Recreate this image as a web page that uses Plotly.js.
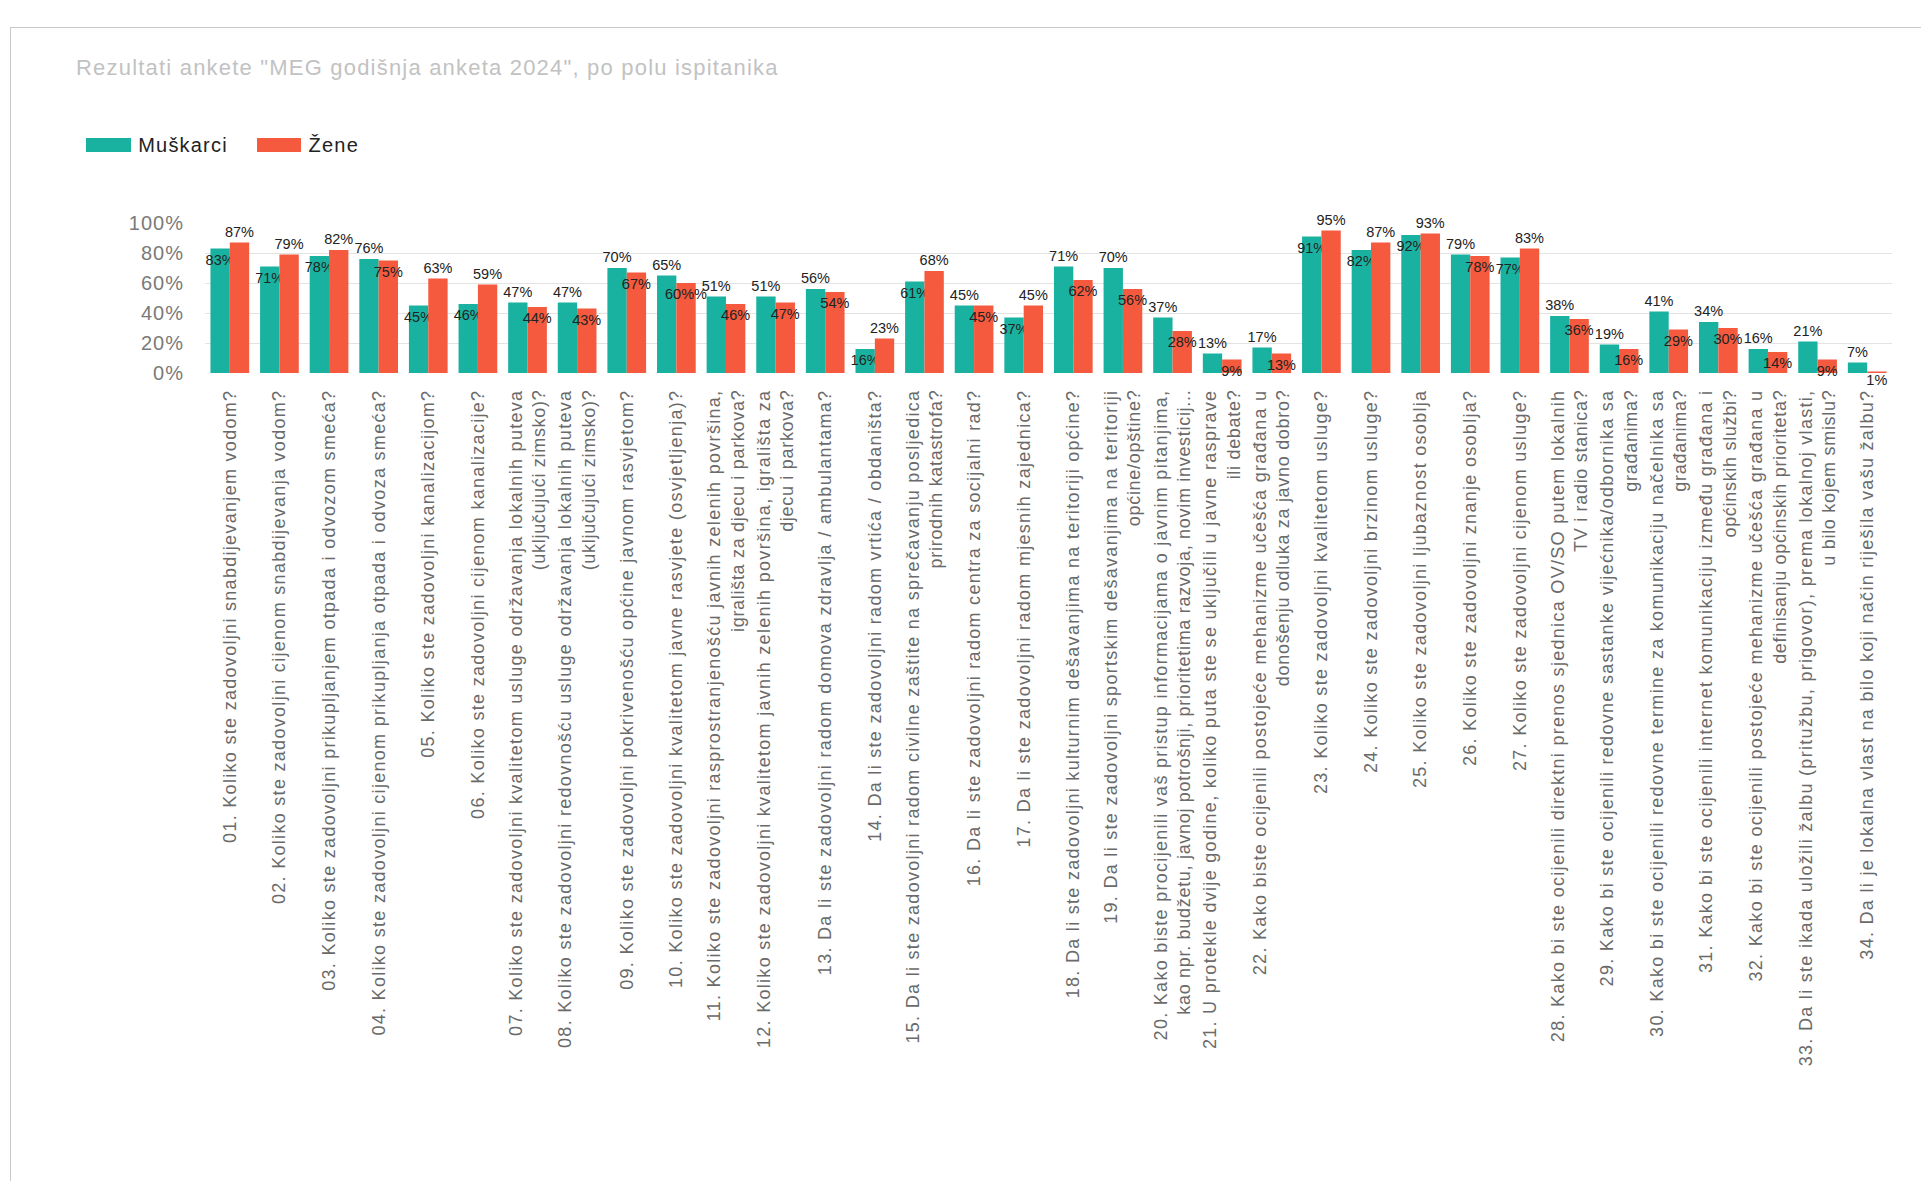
<!DOCTYPE html>
<html>
<head>
<meta charset="utf-8">
<script src="https://cdn.plot.ly/plotly-3.0.1.min.js"></script>
<style>
html,body{margin:0;padding:0;background:#fff;}
#chart{position:absolute;left:0;top:0;width:1921px;height:1181px;}
#frame{position:absolute;left:10px;top:27px;width:1911px;height:1154px;border-left:1px solid #c9c9c9;border-top:1px solid #c9c9c9;pointer-events:none;}
#chart .xtick text{letter-spacing:1.3px;}
#chart .xtick text tspan.line:not(:first-child){letter-spacing:0.7px;}
#chart .ytick text{letter-spacing:1px;}
#chart .gtitle{letter-spacing:1.2px;}
#chart .annotation-text{letter-spacing:1.2px;}
</style>
</head>
<body>
<div id="chart"></div>
<div id="frame"></div>
<script>
const categories = [
  "01. Koliko ste zadovoljni snabdijevanjem vodom?",
  "02. Koliko ste zadovoljni cijenom snabdijevanja vodom?",
  "03. Koliko ste zadovoljni prikupljanjem otpada i odvozom smeća?",
  "04. Koliko ste zadovoljni cijenom prikupljanja otpada i odvoza smeća?",
  "05. Koliko ste zadovoljni kanalizacijom?",
  "06. Koliko ste zadovoljni cijenom kanalizacije?",
  "07. Koliko ste zadovoljni kvalitetom usluge održavanja lokalnih puteva<br>(uključujući zimsko)?",
  "08. Koliko ste zadovoljni redovnošću usluge održavanja lokalnih puteva<br>(uključujući zimsko)?",
  "09. Koliko ste zadovoljni pokrivenošću općine javnom rasvjetom?",
  "10. Koliko ste zadovoljni kvalitetom javne rasvjete (osvjetljenja)?",
  "11. Koliko ste zadovoljni rasprostranjenošću javnih zelenih površina,<br>igrališta za djecu i parkova?",
  "12. Koliko ste zadovoljni kvalitetom javnih zelenih površina, igrališta za<br>djecu i parkova?",
  "13. Da li ste zadovoljni radom domova zdravlja / ambulantama?",
  "14. Da li ste zadovoljni radom vrtića / obdaništa?",
  "15. Da li ste zadovoljni radom civilne zaštite na sprečavanju posljedica<br>prirodnih katastrofa?",
  "16. Da li ste zadovoljni radom centra za socijalni rad?",
  "17. Da li ste zadovoljni radom mjesnih zajednica?",
  "18. Da li ste zadovoljni kulturnim dešavanjima na teritoriji općine?",
  "19. Da li ste zadovoljni sportskim dešavanjima na teritoriji<br>općine/opštine?",
  "20. Kako biste procijenili vaš pristup informacijama o javnim pitanjima,<br>kao npr. budžetu, javnoj potrošnji, prioritetima razvoja, novim investicij...",
  "21. U protekle dvije godine, koliko puta ste se uključili u javne rasprave<br>ili debate?",
  "22. Kako biste ocijenili postojeće mehanizme učešća građana u<br>donošenju odluka za javno dobro?",
  "23. Koliko ste zadovoljni kvalitetom usluge?",
  "24. Koliko ste zadovoljni brzinom usluge?",
  "25. Koliko ste zadovoljni ljubaznost osoblja",
  "26. Koliko ste zadovoljni znanje osoblja?",
  "27. Koliko ste zadovoljni cijenom usluge?",
  "28. Kako bi ste ocijenili direktni prenos sjednica OV/SO putem lokalnih<br>TV i radio stanica?",
  "29. Kako bi ste ocijenili redovne sastanke vijećnika/odbornika sa<br>građanima?",
  "30. Kako bi ste ocijenili redovne termine za komunikaciju načelnika sa<br>građanima?",
  "31. Kako bi ste ocijenili internet komunikaciju između građana i<br>općinskih službi?",
  "32. Kako bi ste ocijenili postojeće mehanizme učešća građana u<br>definisanju općinskih prioriteta?",
  "33. Da li ste ikada uložili žalbu (pritužbu, prigovor), prema lokalnoj vlasti,<br>u bilo kojem smislu?",
  "34. Da li je lokalna vlast na bilo koji način riješila vašu žalbu?"
];

const muskarci = [83, 71, 78, 76, 45, 46, 47, 47, 70, 65, 51, 51, 56, 16, 61, 45, 37, 71, 70, 37, 13, 17, 91, 82, 92, 79, 77, 38, 19, 41, 34, 16, 21, 7];
const zene     = [87, 79, 82, 75, 63, 59, 44, 43, 67, 60, 46, 47, 54, 23, 68, 45, 45, 62, 56, 28, 9, 13, 95, 87, 93, 78, 83, 36, 16, 29, 30, 14, 9, 1];

const seriesNames = ["Muškarci", "Žene"];
const seriesColors = ["#19b2a0", "#f55a3e"];
const yTickVals = [0, 20, 40, 60, 80, 100];
const yTickText = ["0%", "20%", "40%", "60%", "80%", "100%"];
const chartTitle = 'Rezultati ankete "MEG godišnja anketa 2024", po polu ispitanika';

const FONT = "Liberation Sans, Arial, sans-serif";
const W = 1921, H = 1181;
const M = {l: 205, r: 29, t: 223, b: 808};
const plotW = W - M.l - M.r, plotH = H - M.t - M.b;
const px2x = (px) => (px - M.l) / plotW;
const px2y = (py) => (H - M.b - py) / plotH;

// the taller bar of each pair gets its label above, the other one just inside its top
const mPos = muskarci.map((m, i) => (m >= zene[i] ? "outside" : "inside"));
const zPos = zene.map((z, i) => (z > muskarci[i] ? "outside" : "inside"));

const labelFont = {family: FONT, size: 14.5, color: "#222"};

function barTrace(name, values, color, positions) {
  return {
    type: "bar",
    name: name,
    x: categories,
    y: values,
    marker: {color: color},
    texttemplate: "%{y}%",
    textposition: positions,
    insidetextanchor: "end",
    textangle: 0,
    constraintext: "none",
    cliponaxis: false,
    textfont: labelFont,
    insidetextfont: labelFont,
    outsidetextfont: labelFont,
    hoverinfo: "x+y",
    showlegend: false
  };
}

const traces = [
  barTrace(seriesNames[0], muskarci, seriesColors[0], mPos),
  barTrace(seriesNames[1], zene, seriesColors[1], zPos)
];

// legend drawn as wide colour keys, as in the original
const legendKeys = [{x0: 86, x1: 131, tx: 141}, {x0: 257, x1: 301, tx: 309}];
const shapes = legendKeys.map((k, i) => ({
  type: "rect", xref: "paper", yref: "paper",
  x0: px2x(k.x0), x1: px2x(k.x1), y0: px2y(152), y1: px2y(138),
  fillcolor: seriesColors[i], line: {width: 0}
}));
const annotations = legendKeys.map((k, i) => ({
  xref: "paper", yref: "paper",
  x: px2x(k.tx), y: px2y(145), xanchor: "left", yanchor: "middle",
  text: seriesNames[i], showarrow: false,
  font: {family: FONT, size: 20, color: "#222"}
}));

const layout = {
  width: W,
  height: H,
  margin: {l: M.l, r: M.r, t: M.t, b: M.b, autoexpand: false},
  paper_bgcolor: "rgba(0,0,0,0)",
  plot_bgcolor: "rgba(0,0,0,0)",
  barmode: "group",
  bargap: 0.22,
  bargroupgap: 0,
  font: {family: FONT, color: "#666"},
  title: {
    text: chartTitle,
    xref: "container", yref: "container",
    x: 76 / W, xanchor: "left",
    y: 1 - 67 / H, yanchor: "middle",
    font: {family: FONT, size: 22, color: "#c2c2c2"}
  },
  showlegend: false,
  shapes: shapes,
  annotations: annotations,
  xaxis: {
    type: "category",
    tickangle: -90,
    ticks: "",
    showgrid: false,
    showline: false,
    zeroline: false,
    automargin: false,
    ticklabelstandoff: 12,
    tickfont: {family: FONT, size: 18, color: "#6a6a6a"},
    fixedrange: true
  },
  yaxis: {
    range: [0, 100],
    tickmode: "array",
    tickvals: yTickVals,
    ticktext: yTickText,
    showgrid: true,
    gridcolor: "#e3e3e3",
    gridwidth: 1,
    zeroline: false,
    showline: false,
    ticks: "",
    automargin: false,
    ticklabelstandoff: 20,
    tickfont: {family: FONT, size: 20, color: "#7a7a7a"},
    fixedrange: true
  }
};

Plotly.newPlot("chart", traces, layout, {displayModeBar: false, staticPlot: true});
</script>
</body>
</html>
